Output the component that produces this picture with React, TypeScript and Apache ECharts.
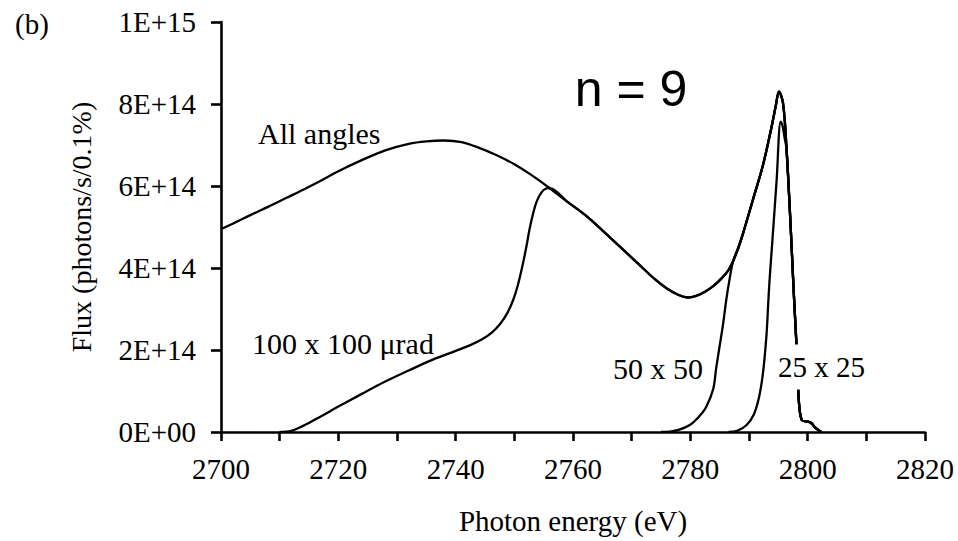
import React, { useEffect, useRef } from "react";
import * as echarts from "echarts";

// Flux values are in units of 1E+14 photons/s/0.1%
const FLUX_UNIT = 1e14;

const allAnglesEnergy = [2700, 2702, 2705, 2708, 2711, 2714, 2717, 2720, 2724, 2728, 2732, 2735, 2738, 2741, 2744, 2747, 2750, 2753, 2756, 2759, 2762, 2765, 2768, 2771, 2774, 2776, 2778, 2779.6, 2781, 2782.5, 2784, 2785.4, 2786.5, 2787.3, 2788.2, 2789, 2790.7, 2792.4, 2793.8, 2794.6, 2795.1, 2795.8, 2796.4, 2797.0, 2797.4, 2797.7, 2798.1, 2798.5, 2799.0, 2799.8, 2800.6, 2801.2, 2802.3];
const allAnglesFlux = [4.95, 5.08, 5.29, 5.49, 5.70, 5.91, 6.13, 6.36, 6.63, 6.87, 7.03, 7.09, 7.11, 7.07, 6.93, 6.75, 6.53, 6.26, 5.95, 5.62, 5.30, 4.92, 4.52, 4.12, 3.72, 3.50, 3.34, 3.28, 3.32, 3.42, 3.57, 3.76, 3.95, 4.17, 4.50, 4.85, 5.68, 6.52, 7.41, 7.98, 8.30, 8.02, 6.90, 5.30, 4.10, 3.20, 2.10, 0.75, 0.29, 0.26, 0.22, 0.12, 0.0];

const beam100Energy = [2710, 2712, 2714, 2717, 2720, 2724, 2728, 2732, 2736, 2740, 2742.5, 2744.5, 2746.2, 2747.6, 2748.8, 2749.8, 2750.6, 2751.3, 2752, 2752.6, 2753.2, 2753.8, 2754.6, 2755.4];
const beam100Flux = [0, 0.03, 0.15, 0.38, 0.62, 0.93, 1.23, 1.50, 1.76, 1.98, 2.12, 2.26, 2.43, 2.64, 2.90, 3.22, 3.58, 4.00, 4.48, 4.95, 5.33, 5.62, 5.84, 5.94];
const beam100JoinAt = 2756;

const beam50Energy = [2775, 2776.5, 2778, 2779.9, 2781.5, 2782.7, 2783.9, 2784.4, 2785.0, 2785.6, 2786.1, 2786.6];
const beam50Flux = [0, 0.01, 0.05, 0.17, 0.38, 0.61, 1.05, 1.55, 2.1, 2.65, 3.2, 3.65];
const beam50JoinAt = 2787.3;

const beam25Energy = [2786.5, 2788, 2789.6, 2790.8, 2791.6, 2792.1, 2792.5, 2793.0, 2793.3, 2793.5, 2794.1, 2794.7, 2795.4, 2795.7, 2796.1];
const beam25Flux = [0, 0.03, 0.17, 0.42, 0.78, 1.15, 1.58, 2.4, 3.2, 3.69, 4.9, 6.12, 7.57, 7.48, 7.15];
const beam25JoinAt = 2796.4;

const yTickLabels = ["0E+00", "2E+14", "4E+14", "6E+14", "8E+14", "1E+15"];

const xAxisTitle = "Photon energy (eV)";
const yAxisTitle = "Flux (photons/s/0.1%)";
const panelLabel = "(b)";
const harmonicLabel = "n = 9";
const curveLabels = ["All angles", "100 x 100 \u03bcrad", "50 x 50", "25 x 25"];

function pairs(es: number[], fs: number[]) {
  return es.map((e, i) => [e, fs[i] * FLUX_UNIT]);
}

function withEnvelope(es: number[], fs: number[], joinAt: number) {
  const own = pairs(es, fs);
  const rest = allAnglesEnergy
    .map((e, i) => [e, allAnglesFlux[i] * FLUX_UNIT])
    .filter((p) => p[0] >= joinAt - 1e-9);
  return own.concat(rest);
}

const SERIF = "'Liberation Serif', 'Times New Roman', serif";

export default function App() {
  const ref = useRef<HTMLDivElement>(null);
  useEffect(() => {
    if (!ref.current) return;
    const chart = echarts.init(ref.current, undefined, { renderer: "svg" });
    const lineStyle = { color: "#000", width: 2.3 };
    const mkSeries = (name: string, data: number[][]) => ({
      name,
      type: "line",
      data,
      showSymbol: false,
      symbol: "none",
      smooth: 0.35,
      lineStyle,
      z: 3,
    });
    const annot = (text: string, x: number, y: number, extra: any = {}) => ({
      type: "text",
      x,
      y,
      z: 100,
      style: {
        text,
        fontFamily: SERIF,
        fontSize: 30,
        fill: "#000",
        verticalAlign: "middle",
        textVerticalAlign: "middle",
        ...extra,
      },
    });
    chart.setOption({
      animation: false,
      backgroundColor: "#fff",
      grid: { left: 221, right: 33, top: 22, bottom: 109 },
      xAxis: {
        type: "value",
        min: 2700,
        max: 2820,
        interval: 10,
        name: xAxisTitle,
        nameLocation: "middle",
        nameGap: 74,
        nameTextStyle: { fontFamily: SERIF, fontSize: 29, color: "#000" },
        axisLine: { show: true, onZero: false, lineStyle: { color: "#000", width: 2.6 } },
        axisTick: { show: true, inside: false, length: 9, lineStyle: { color: "#000", width: 2.6 } },
        axisLabel: {
          fontFamily: SERIF,
          fontSize: 29,
          color: "#000",
          margin: 22,
          formatter: (v: number) => (Math.round(v) % 20 === 0 ? String(Math.round(v)) : ""),
        },
        splitLine: { show: false },
      },
      yAxis: {
        type: "value",
        min: 0,
        max: 1e15,
        interval: 2e14,
        name: yAxisTitle,
        nameLocation: "middle",
        nameRotate: 90,
        nameGap: 126,
        nameTextStyle: { fontFamily: SERIF, fontSize: 28, color: "#000" },
        axisLine: { show: true, lineStyle: { color: "#000", width: 2.6 } },
        axisTick: { show: true, inside: false, length: 10, lineStyle: { color: "#000", width: 2.6 } },
        axisLabel: {
          fontFamily: SERIF,
          fontSize: 29,
          color: "#000",
          margin: 25,
          formatter: (v: number) => yTickLabels[Math.round(v / 2e14)] ?? "",
        },
        splitLine: { show: false },
      },
      series: [
        mkSeries(curveLabels[0], pairs(allAnglesEnergy, allAnglesFlux)),
        mkSeries(curveLabels[1], withEnvelope(beam100Energy, beam100Flux, beam100JoinAt)),
        mkSeries(curveLabels[2], withEnvelope(beam50Energy, beam50Flux, beam50JoinAt)),
        mkSeries(curveLabels[3], withEnvelope(beam25Energy, beam25Flux, beam25JoinAt)),
      ],
      graphic: [
        annot(panelLabel, 15, 24, { fontSize: 29 }),
        {
          type: "text",
          x: 631,
          y: 89,
          z: 100,
          style: {
            text: harmonicLabel,
            fontFamily: "'Liberation Sans', Arial, sans-serif",
            fontSize: 50,
            fill: "#000",
            align: "center",
            verticalAlign: "middle",
            textAlign: "center",
            textVerticalAlign: "middle",
          },
        },
        annot(curveLabels[0], 258, 133),
        annot(curveLabels[1], 252, 343),
        annot(curveLabels[2], 613, 368),
        annot(curveLabels[3], 776, 367, { fontSize: 29, backgroundColor: "#fff", padding: [8, 2, 8, 2] }),
      ],
    });
    return () => chart.dispose();
  }, []);
  return (
    <div
      ref={ref}
      style={{ position: "fixed", left: 0, top: 0, width: 958, height: 541, background: "#fff" }}
    />
  );
}
